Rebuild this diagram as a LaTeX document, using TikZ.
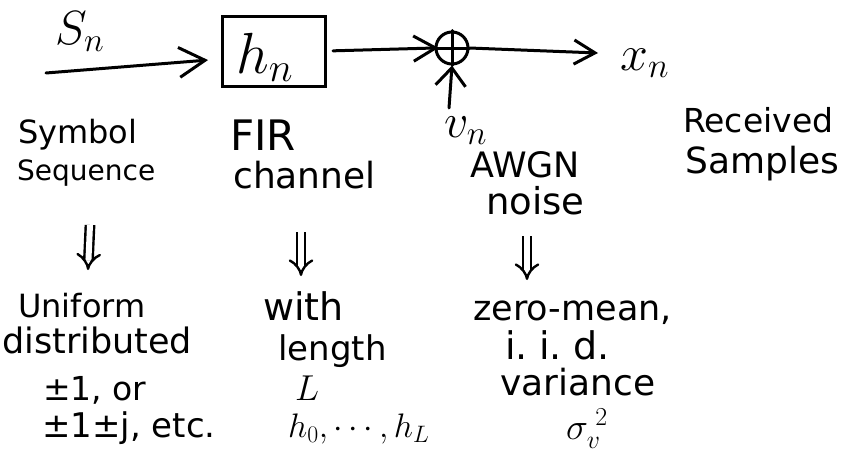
\RequirePackage{fix-cm}
\documentclass[tikz,border=0pt]{standalone}
\usepackage{fontspec}
\setmainfont{DejaVu Sans}
\usetikzlibrary{arrows.meta}
\newcommand\hsz[1]{\fontsize{#1}{#1}\selectfont}
\tikzset{
  wire/.style={line width=3pt, line cap=round, line join=round},
  barb/.style={-{Straight Barb[length=#1, width=1.15*#1]}},
  lbl/.style={inner sep=0pt, anchor=base west},
  implies/.style={line width=2.4pt, double distance=6pt, -{Implies[scale=1.5]}},
}
\begin{document}
\begin{tikzpicture}[x=1pt, y=-1pt]
  \useasboundingbox (0,0) rectangle (848,463);

  % signal chain
  \node[lbl, font=\hsz{48}] (sn) at (55,44) {$S_n$};
  \node[draw, line width=3pt, minimum width=103pt, minimum height=70pt,
        inner sep=0pt] (hn) at (274,51) {};
  \node[lbl, font=\hsz{58}] (hnl) at (236,73) {$h_n$};
  \node[circle, draw, line width=3pt, minimum size=32pt, inner sep=0pt] (sum) at (452,48) {};
  \draw[wire] (sum.north) -- (sum.south) (sum.west) -- (sum.east);
  \node[lbl, font=\hsz{50}] (xn) at (620,70) {$x_n$};
  \node[lbl, font=\hsz{48}] (vn) at (444,137) {$v_n$};

  \coordinate (in) at (46,73);
  \coordinate (out) at (598,53);
  \coordinate (nin) at (449,108);

  \draw[wire, barb=26pt, shorten >=13pt] (in) -- ([yshift=-8pt]hn.west);
  \draw[wire, barb=22pt, shorten <=6pt, shorten >=-4pt] (hn.east) -- (sum.west);
  \draw[wire, barb=21pt] (sum.east) -- (out);
  \draw[wire, -{Straight Barb[length=18pt, width=30pt]}] (nin) -- (sum.south);

  % block descriptions
  \node[lbl, font=\hsz{32}] (sym1) at (18,143) {Symbol};
  \node[lbl, font=\hsz{28}] (sym2) at (17,180) {Sequence};
  \node[lbl, font=\hsz{42}] (fir1) at (230,150) {FIR};
  \node[lbl, font=\hsz{36}] (fir2) at (233,188) {channel};
  \node[lbl, font=\hsz{35}] (awgn1) at (470,177) {AWGN};
  \node[lbl, font=\hsz{37}] (awgn2) at (486,214) {noise};
  \node[lbl, font=\hsz{33}] (rx1) at (683,132) {Received};
  \node[lbl, font=\hsz{36}] (rx2) at (685,173) {Samples};

  % details
  \node[lbl, font=\hsz{32}] (u1) at (18,317) {Uniform};
  \node[lbl, font=\hsz{35}] (u2) at (2,353) {distributed};
  \node[lbl, font=\hsz{33}] (u3) at (43,400) {±1, or};
  \node[lbl, font=\hsz{34}] (u4) at (42,437) {±1±j, etc.};

  \node[lbl, font=\hsz{38}] (w1) at (263,320) {with};
  \node[lbl, font=\hsz{34}] (w2) at (278,360) {length};
  \node[lbl, font=\hsz{36}] (w3) at (295,400) {$L$};
  \node[lbl, font=\hsz{34}] (w4) at (288,437) {$h_0,\cdots,h_L$};

  \node[lbl, font=\hsz{35}] (z1) at (473,320) {zero-mean,};
  \node[lbl, font=\hsz{38}] (z2) at (505,359) {i.\hspace{0.3em}i.\hspace{0.3em}d.};
  \node[lbl, font=\hsz{36}] (z3) at (500,395) {variance};
  \node[lbl, font=\hsz{37}] (z4) at (566,439) {$\sigma_v^{\;2}$};

  % implication arrows
  \coordinate (d1a) at (90,225);  \coordinate (d1b) at (88,270);
  \coordinate (d2a) at (301,232); \coordinate (d2b) at (301,276);
  \coordinate (d3a) at (527,236); \coordinate (d3b) at (527,280);
  \draw[implies] (d1a) -- (d1b);
  \draw[implies] (d2a) -- (d2b);
  \draw[implies] (d3a) -- (d3b);
\end{tikzpicture}
\end{document}
